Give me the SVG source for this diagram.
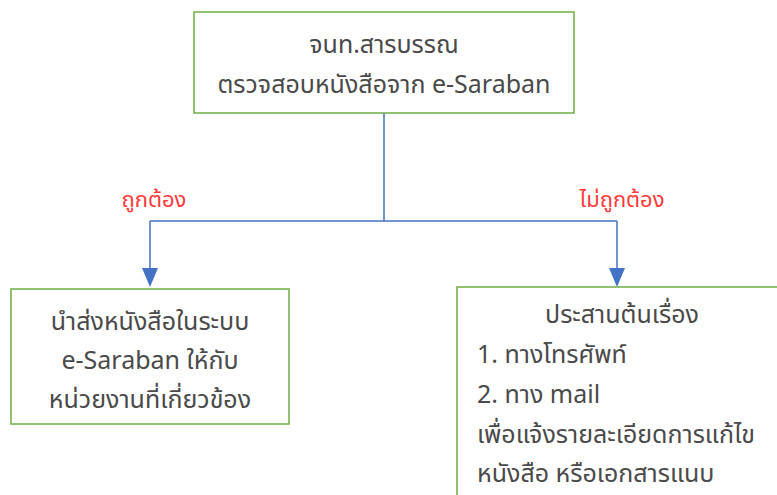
<svg xmlns="http://www.w3.org/2000/svg" width="777" height="495" viewBox="0 0 777 495">
<style>
.box{fill:#fff;stroke:#70AD47;stroke-width:1.5}
.t{font-family:"Noto Sans Thai","Noto Sans","Liberation Sans",sans-serif;font-size:25px;fill:#4a4a4a}
.c{text-anchor:middle}
.lbl{font-family:"Noto Sans Thai","Noto Sans","Liberation Sans",sans-serif;font-size:22px;fill:#FF3B3B;text-anchor:middle}
.ln{fill:none;stroke:#4472C4;stroke-width:1.5}
</style>
<rect width="777" height="495" fill="#fff"/>
<g id="connectors">
<path class="ln" d="M384,113 V221"/>
<path class="ln" d="M150,221 H617"/>
<path class="ln" d="M150,221 V268"/>
<path class="ln" d="M617,221 V268"/>
<path d="M142,268 L158,268 L150,287 z" fill="#4472C4"/>
<path d="M609,268 L625,268 L617,287 z" fill="#4472C4"/>
<text class="lbl" x="154" y="207">ถูกต้อง</text>
<text class="lbl" x="622" y="207">ไม่ถูกต้อง</text>
</g>
<g id="n-top">
<rect class="box" x="194" y="12" width="380" height="101"/>
<text class="t c" x="384" y="53">จนท.สารบรรณ</text>
<text class="t c" x="384" y="93">ตรวจสอบหนังสือจาก e-Saraban</text>
</g>
<g id="n-correct">
<rect class="box" x="11" y="289" width="278" height="135"/>
<text class="t c" x="150" y="330">นำส่งหนังสือในระบบ</text>
<text class="t c" x="150" y="369">e-Saraban ให้กับ</text>
<text class="t c" x="150" y="408">หน่วยงานที่เกี่ยวข้อง</text>
</g>
<g id="n-incorrect">
<rect class="box" x="457" y="287" width="340" height="230"/>
<text class="t c" x="622" y="323">ประสานต้นเรื่อง</text>
<text class="t" x="477" y="363">1. ทางโทรศัพท์</text>
<text class="t" x="477" y="403">2. ทาง mail</text>
<text class="t" x="477" y="443">เพื่อแจ้งรายละเอียดการแก้ไข</text>
<text class="t" x="477" y="482">หนังสือ หรือเอกสารแนบ</text>
</g>
</svg>
